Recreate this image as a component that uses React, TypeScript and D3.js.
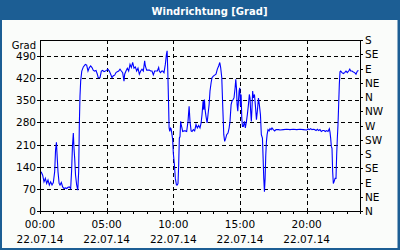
import React from "react";
import * as d3 from "d3";

// minutes since 00:00 on 22.07.14, wind direction in degrees
const block1Minutes = [5,12,18,24,30,36,42,48,54,60,66,70,74,76,81,86,90,96,102,108,114,120,126,132,138,142,146,150,153,156,160,165,170,174,177,180,183,188,195,204,210,216,222,228,234,240,246,252,258,262,270,276,282,288,294,300,305,312,318,324,330,336,342,348,354];
const block1Values = [124,113,92,103,87,98,82,92,82,90,124,193,217,188,124,87,82,90,76,71,73,71,75,76,71,124,204,246,198,167,113,82,66,124,273,363,410,442,455,463,461,442,453,458,453,444,442,444,432,421,421,442,444,440,442,444,448,442,432,421,427,429,437,440,442];

const block2Minutes = [360,366,372,378,381,387,393,399,405,411,417,423,429,435,441,447,453,459,465,471,474,480,486,492,498,504,510,516,522,528,534,537,542,548,552,558,564,569,572,575,578,581,584,587,590,594,597,600,605,609,614,618,621,624,627,630,633,636,639,642,648,654,660,666,671,675,680,684,690,696,702,708,714];
const block2Values = [448,442,437,410,432,442,451,442,463,453,469,451,455,442,451,432,442,448,442,474,458,445,445,445,442,442,430,442,442,442,453,442,437,442,442,437,463,495,506,442,357,262,251,262,260,241,225,182,145,103,82,82,87,145,230,235,283,270,262,251,253,253,251,283,331,283,253,251,257,253,273,262,270];

const block3Minutes = [720,725,729,734,737,740,743,747,752,756,761,765,770,774,780,786,792,798,804,809,813,818,822,827,831,836,840,846,851,855,860,864,869,873,878,881,884,887,890,893,896,899,902,905,908,911,915,920,924,929,933,938,942,945,948,951,954,957,960,965,969,974,978,983,987,992,996,1001,1004,1007,1010,1013,1016,1019,1022,1026,1031,1035,1040,1044,1050,1056,1062,1068,1074];
const block3Values = [262,278,304,347,320,352,320,299,278,304,336,379,405,421,426,429,432,448,458,469,453,421,336,241,220,230,241,246,262,283,336,347,352,357,389,416,389,336,315,347,379,389,331,368,294,267,267,283,262,283,304,336,368,357,315,283,325,379,357,368,336,288,315,357,336,304,241,230,167,103,61,103,177,220,241,257,253,260,257,262,257,253,257,257,257];

const block4Minutes = [1080,1095,1110,1125,1140,1155,1170,1185,1200,1206,1212,1218,1224,1230,1236,1242,1248,1254,1260,1266,1272,1278,1284,1290,1296,1302,1305,1308,1311,1314,1317,1320,1323,1328,1332,1335,1338,1341,1344,1347,1350,1353,1359,1365,1371,1377,1383,1389,1394,1398,1404,1410,1416,1422,1428,1433];
const block4Values = [256,257,258,257,258,257,258,257,256,259,257,260,257,258,257,254,258,254,257,251,254,254,251,254,251,260,249,230,204,198,124,87,92,103,103,177,230,273,336,400,440,442,437,434,437,442,437,442,448,442,442,439,437,432,442,444];

const leftTicks = [0, 70, 140, 210, 280, 350, 420, 490];
const compassLabels = ["N","NE","E","SE","S","SW","W","NW","N","NE","E","SE","S"];
const compassStep = 45;
const timeLabels = ["00:00", "05:00", "10:00", "15:00", "20:00"];
const timeLabelMinutes = [0, 300, 600, 900, 1200];
const dateLabel = "22.07.14";
const title = "Windrichtung [Grad]";
const unitLabel = "Grad";

export default function App() {
  const W = 400, H = 250;
  const left = 40, right = 360, top = 40, bottom = 211;
  const x = d3.scaleLinear().domain([0, 1440]).range([left, right]);
  const y = d3.scaleLinear().domain([0, 540]).range([bottom, top]);

  const minutes = [...block1Minutes, ...block2Minutes, ...block3Minutes, ...block4Minutes];
  const values = [...block1Values, ...block2Values, ...block3Values, ...block4Values];
  const pts: [number, number][] = minutes.map((m, i) => [m, values[i]]);
  const line = d3.line<[number, number]>().x(d => x(d[0])).y(d => y(d[1]));

  const hourTicks = d3.range(0, 1441, 60);
  const font = "DejaVu Sans, Verdana, sans-serif";
  const fs = 10.5;

  return (
    <svg width={W} height={H} style={{ position: "absolute", left: 0, top: 0 }} fontFamily={font}>
      <rect x={0} y={0} width={W} height={H} fill="#1c5e94" />
      <rect x={2} y={20} width={395.5} height={228} fill="#fafcfa" />
      <text x={209.5} y={14.5} textAnchor="middle" fill="#ffffff" fontSize={10} fontWeight="bold">{title}</text>

      {/* grid */}
      {leftTicks.filter(v => v > 0).map(v => (
        <line key={"h" + v} x1={left} x2={right} y1={Math.round(y(v)) + 0.5} y2={Math.round(y(v)) + 0.5}
          stroke="#000" strokeWidth={1} strokeDasharray="4,3" shapeRendering="crispEdges" />
      ))}
      {timeLabelMinutes.filter(m => m > 0).map(m => (
        <line key={"v" + m} x1={Math.round(x(m)) + 0.5} x2={Math.round(x(m)) + 0.5} y1={top} y2={bottom}
          stroke="#000" strokeWidth={1} strokeDasharray="4,3" shapeRendering="crispEdges" />
      ))}

      {/* data line */}
      <path d={line(pts) || ""} fill="none" stroke="#0000ff" strokeWidth={1.1} strokeLinejoin="miter" />

      {/* frame */}
      <rect x={left + 0.5} y={top + 0.5} width={right - left} height={bottom - top} fill="none" stroke="#000" strokeWidth={1} shapeRendering="crispEdges" />

      {/* left axis */}
      {leftTicks.map(v => (
        <g key={"l" + v}>
          <line x1={left - 3} x2={left} y1={Math.round(y(v)) + 0.5} y2={Math.round(y(v)) + 0.5} stroke="#000" shapeRendering="crispEdges" />
          <text x={36} y={y(v) + 4} textAnchor="end" fontSize={fs} fill="#000">{v}</text>
        </g>
      ))}
      <text x={36} y={48.5} textAnchor="end" fontSize={10} fill="#000">{unitLabel}</text>

      {/* right axis */}
      {compassLabels.map((lab, i) => (
        <g key={"r" + i}>
          <line x1={right} x2={right + 3} y1={Math.round(y(i * compassStep)) + 0.5} y2={Math.round(y(i * compassStep)) + 0.5} stroke="#000" shapeRendering="crispEdges" />
          <text x={365} y={y(i * compassStep) + 4} fontSize={fs} fill="#000">{lab}</text>
        </g>
      ))}

      {/* bottom axis */}
      {hourTicks.map(m => (
        <line key={"t" + m} x1={Math.round(x(m)) + 0.5} x2={Math.round(x(m)) + 0.5} y1={bottom} y2={bottom + 3} stroke="#000" shapeRendering="crispEdges" />
      ))}
      {timeLabelMinutes.map((m, i) => (
        <g key={"b" + m}>
          <text x={x(m)} y={228} textAnchor="middle" fontSize={fs} fill="#000">{timeLabels[i]}</text>
          <text x={x(m)} y={243} textAnchor="middle" fontSize={fs} fill="#000">{dateLabel}</text>
        </g>
      ))}
    </svg>
  );
}
